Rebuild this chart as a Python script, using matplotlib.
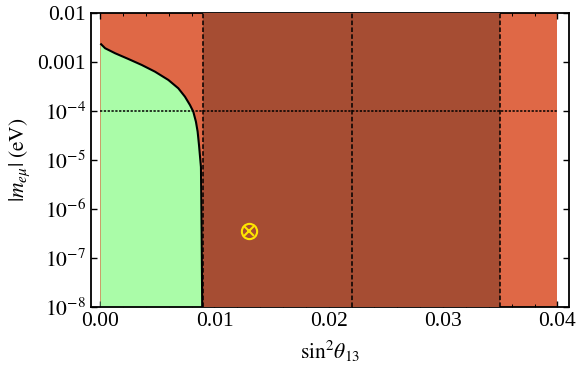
import numpy as np
import matplotlib
matplotlib.use("Agg")
import matplotlib.pyplot as plt
from matplotlib.ticker import FixedLocator, MultipleLocator, LogLocator, NullFormatter

plt.rcParams['mathtext.fontset'] = 'stix'
plt.rcParams['font.family'] = ['Liberation Serif', 'DejaVu Serif']

# Data
curve_x = [0.0, 0.000087, 0.000437, 0.00131, 0.00247, 0.00364, 0.00480, 0.00597, 0.00684,
           0.00742, 0.00786, 0.00815, 0.00838, 0.00853, 0.00865, 0.00882, 0.00888, 0.00893]
curve_logy = [-2.63, -2.639, -2.720, -2.822, -2.939, -3.061, -3.198, -3.367, -3.537,
              -3.708, -3.878, -4.014, -4.218, -4.422, -4.694, -5.143, -6.49, -8.0]
allowed_x = [0.0, 0.04]          # orange (excluded) band
theta_band = [0.009, 0.035]      # dark band
theta_lines = [0.009, 0.022, 0.035]
mass_line = 1e-4
point_x = 0.013
point_y = 3.5e-7
xticks = [0.00, 0.01, 0.02, 0.03, 0.04]
xticklabels = ['0.00', '0.01', '0.02', '0.03', '0.04']
yticks = [1e-8, 1e-7, 1e-6, 1e-5, 1e-4, 1e-3, 1e-2]
yticklabels = [r'$10^{-8}$', r'$10^{-7}$', r'$10^{-6}$', r'$10^{-5}$', r'$10^{-4}$', '0.001', '0.01']

orange = '#DF6846'
brown = '#A64D33'
green = '#AAFCA8'

fig = plt.figure(figsize=(5.81, 3.70), dpi=100)
ax = fig.add_axes([0.1566, 0.170, 0.8224, 0.795])
ymin, ymax = 1e-8, 1e-2

cy = 10 ** np.array(curve_logy)
ax.fill_between(allowed_x, ymin, ymax, color=orange, lw=0, zorder=1)
ax.fill_between(curve_x, ymin, cy, color=green, lw=0, zorder=2)
ax.fill_between(theta_band, ymin, ymax, color=brown, lw=0, zorder=3)
ax.plot(curve_x[1:], cy[1:], color='black', lw=1.5, zorder=4, solid_joinstyle='round')

for xv in theta_lines:
    ax.axvline(xv, color='black', ls=(0, (3, 1.5)), lw=1.1, zorder=5)
ax.plot(allowed_x, [mass_line, mass_line], color='black', ls=(0, (1.5, 1)), lw=1.1, zorder=5)

ax.plot([point_x], [point_y], marker='o', ms=11, mfc='none', mec='#FFE500', mew=1.5, zorder=6)
ax.plot([point_x], [point_y], marker='x', ms=7, mec='#FFE500', mew=1.5, zorder=6)

ax.set_yscale('log')
ax.set_xlim(-0.0008, 0.041)
ax.set_ylim(ymin, ymax)
ax.xaxis.set_major_locator(FixedLocator(xticks))
ax.set_xticklabels(xticklabels)
ax.xaxis.set_minor_locator(MultipleLocator(0.002))
ax.yaxis.set_major_locator(FixedLocator(yticks))
ax.set_yticklabels(yticklabels)
ax.yaxis.set_minor_locator(LogLocator(base=10, subs=np.arange(2, 10)))
ax.yaxis.set_minor_formatter(NullFormatter())

ax.tick_params(which='both', direction='in', top=True, right=True, labelsize=15.5, colors='black')
ax.tick_params(which='major', length=4, width=1)
ax.tick_params(which='minor', length=2, width=0.7)
for s in ax.spines.values():
    s.set_linewidth(1.3)

ax.set_xlabel(r'$\sin^2\!\theta_{13}$', fontsize=15.5, labelpad=6)
ax.set_ylabel(r'$|m_{e\mu}|\;(\mathrm{eV})$', fontsize=15.5, labelpad=4)

fig.savefig('out.png', dpi=100)
